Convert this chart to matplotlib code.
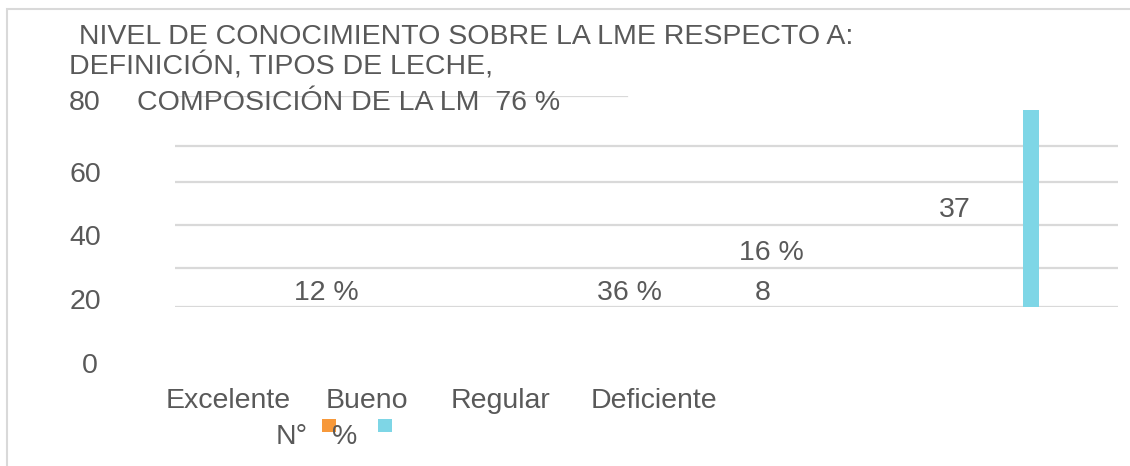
#### Nivel de conocimiento sobre la LME ####
import numpy as np
import matplotlib.pyplot as plt
from matplotlib.patches import Rectangle

# data
categories = ['Excelente', 'Bueno', 'Regular', 'Deficiente']
n_values = [6, 18, 8, 37]
pct_values = [12, 36, 16, 76]
pct_labels = ['12 %', '36 %', '16 %', '76 %']
y_tick_labels = ['80', '60', '40', '20', '0']
grid_levels = [0, 15, 31.6, 48.2, 62.1]
title_lines = [' NIVEL DE CONOCIMIENTO SOBRE LA LME RESPECTO A:',
               'DEFINICIÓN, TIPOS DE LECHE,']
legend_names = ['N°', '%']

W, H = 1130, 466
text_color = '#595959'
grid_color = '#D9D9D9'
colors = ['#F7993B', '#7ED6E6']
fs = 20.5

plt.rcParams['font.family'] = ['Liberation Sans', 'DejaVu Sans']

def fx(x):
    return x / W

def fy(y):
    return 1 - y / H

fig = plt.figure(figsize=(11.3, 4.66), dpi=100)

# outer frame
fig.patches.append(Rectangle((fx(7), fy(470)), fx(1135) - fx(7), fy(9) - fy(470),
                             transform=fig.transFigure, fill=False,
                             edgecolor=grid_color, lw=1.5))

# plot area
ax = fig.add_axes([fx(175), fy(307), fx(1118) - fx(175), fy(96) - fy(307)])
ax.set_xlim(-0.5, 3.5)
ax.set_ylim(0, 81.4)
ax.axis('off')
for g in grid_levels:
    ax.axhline(g, color=grid_color, lw=1.6, zorder=0)
ax.axhline(81.4, xmin=0, xmax=(627 - 175) / (1118 - 175), color=grid_color, lw=1.6, zorder=0)

x = np.arange(len(categories))
ax.bar(x[3] + 0.13, pct_values[3], width=0.068, color=colors[1], zorder=2)

# title (overlapping the axis, as in the original)
fig.text(fx(71), fy(44), title_lines[0], fontsize=fs, color=text_color)
fig.text(fx(69), fy(75), title_lines[1], fontsize=fs, color=text_color)
fig.text(fx(137), fy(110), 'COMPOSICIÓN DE LA LM  ' + pct_labels[3], fontsize=fs, color=text_color)

# y tick labels
tick_base = [110, 182, 245, 309, 373]
for lab, yb in zip(y_tick_labels, tick_base):
    fig.text(fx(101 if len(lab) == 2 else 98), fy(yb), lab, fontsize=fs,
             color=text_color, ha='right')

# data labels
fig.text(fx(326), fy(300), pct_labels[0], fontsize=fs, color=text_color, ha='center')
fig.text(fx(629), fy(300), pct_labels[1], fontsize=fs, color=text_color, ha='center')
fig.text(fx(763), fy(300), str(n_values[2]), fontsize=fs, color=text_color, ha='center')
fig.text(fx(771), fy(260), pct_labels[2], fontsize=fs, color=text_color, ha='center')
fig.text(fx(955), fy(217), str(n_values[3]), fontsize=fs, color=text_color, ha='center')

# category labels
for cat, xl in zip(categories, [166, 326, 451, 591]):
    fig.text(fx(xl), fy(408), cat, fontsize=fs, color=text_color)

# legend
fig.text(fx(276), fy(444), legend_names[0], fontsize=fs, color=text_color)
fig.text(fx(332), fy(444), legend_names[1], fontsize=fs, color=text_color)
for c, xl in zip(colors, [322, 378]):
    fig.patches.append(Rectangle((fx(xl), fy(432)), fx(14), fy(419) - fy(432),
                                 transform=fig.transFigure, color=c, lw=0))

plt.savefig('out.png', dpi=100)
